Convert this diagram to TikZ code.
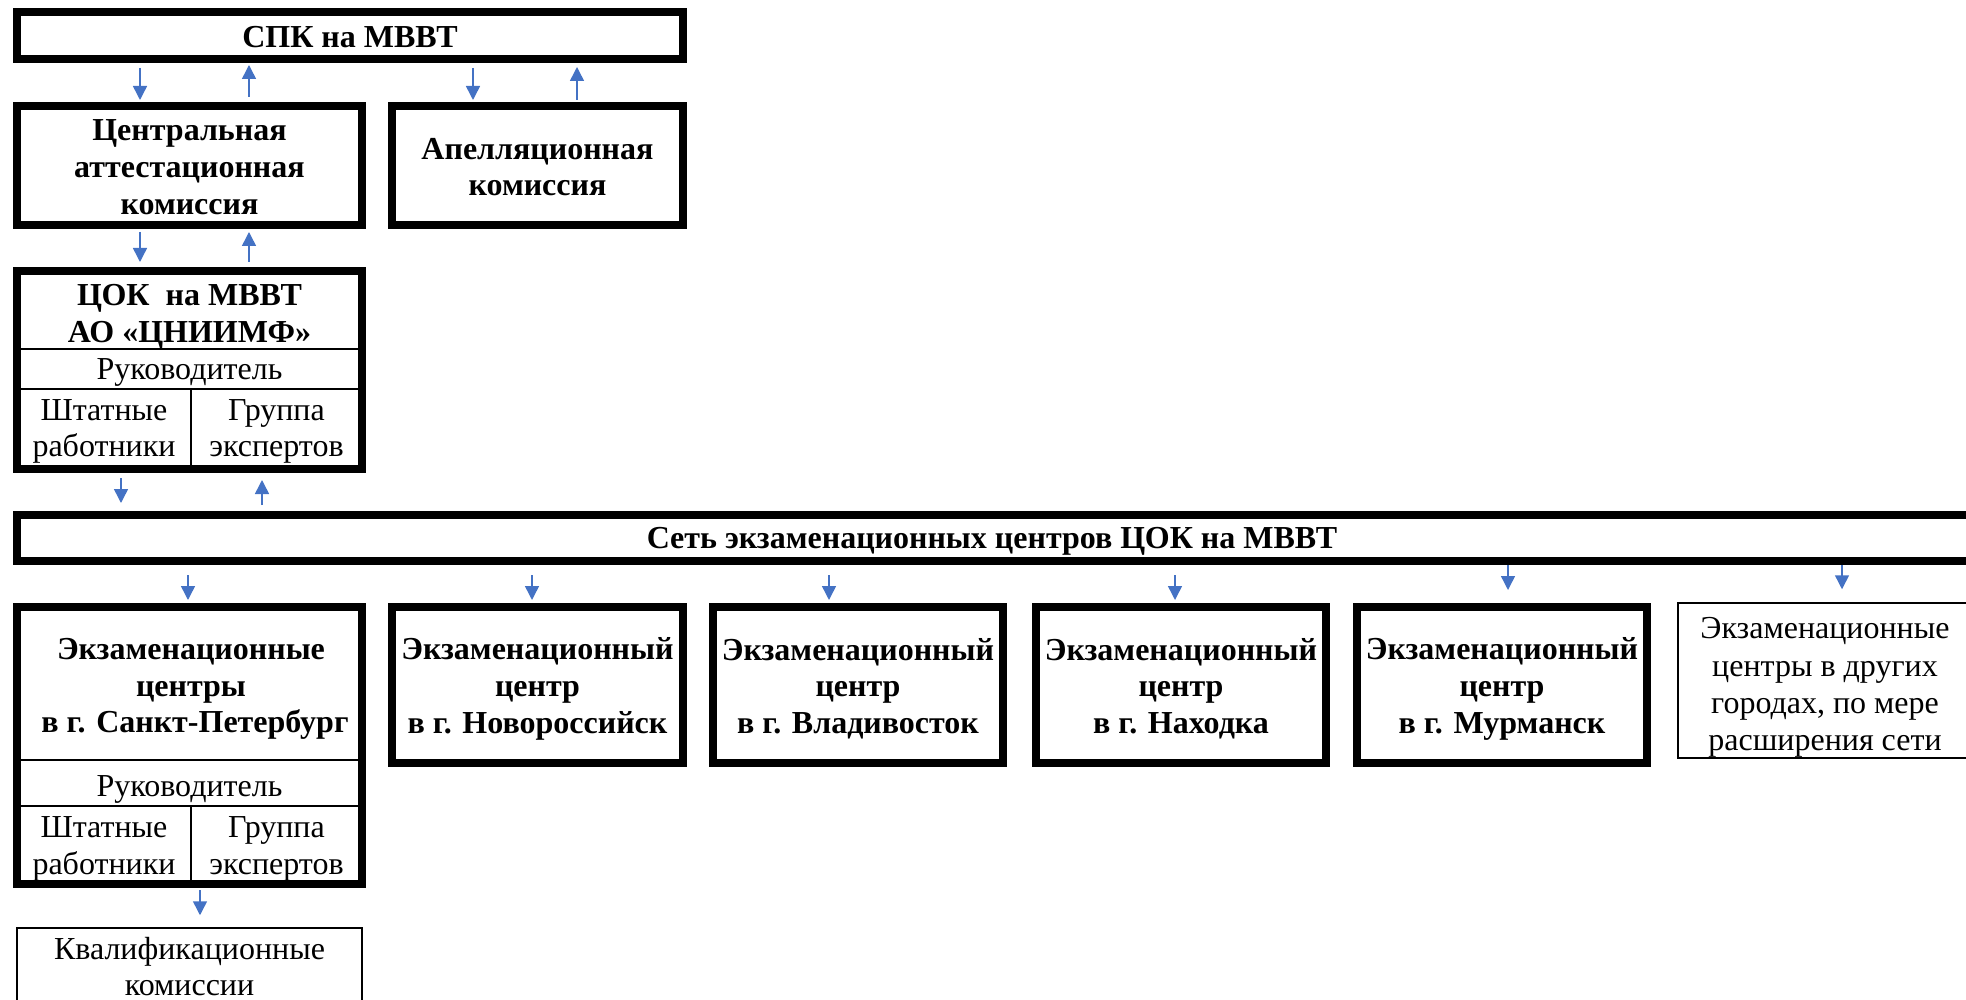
\documentclass[tikz,border=0pt]{standalone}
\usepackage{fontspec}
\setmainfont{Liberation Serif}
\usetikzlibrary{arrows.meta,calc}
\definecolor{arrowblue}{HTML}{4472C4}
\newcommand\pxu[1]{#1*0.5pt}
\begin{document}
\begin{tikzpicture}[x=0.5pt,y=-0.5pt,
  fnt/.style={font=\fontsize{16}{18.4}\selectfont},
  bfnt/.style={font=\bfseries\fontsize{16}{18.4}\selectfont},
  thickbox/.style={draw,line width=4pt,inner sep=0pt},
  thinbox/.style={draw,line width=0.75pt,inner sep=0pt},
  txt/.style={inner sep=0pt,align=center,fnt},
  btxt/.style={inner sep=0pt,align=center,bfnt},
  divline/.style={line width=0.7pt},
  arr/.style={draw=arrowblue,line width=0.75pt,-{Triangle[width=7pt,length=7pt]}}]
\useasboundingbox (0,0) rectangle (1966,1000);

% top level
\node[thickbox,minimum width=\pxu{666},minimum height=\pxu{47}] (spk) at (350,35.5) {};
\node[btxt] (spkt) at ($(spk)+(0,1.5)$) {СПК на МВВТ};
\node[thickbox,minimum width=\pxu{345},minimum height=\pxu{119}] (cak) at (189.5,165.5) {};
\node[btxt] (cakt) at ($(cak)+(0,1.5)$) {Центральная\\аттестационная\\комиссия};
\node[thickbox,minimum width=\pxu{291},minimum height=\pxu{119}] (apk) at (537.5,165.5) {};
\node[btxt] (apkt) at ($(apk)+(0,1.5)$) {Апелляционная\\комиссия};

% ЦОК box
\node[thickbox,minimum width=\pxu{345},minimum height=\pxu{198}] (cok) at (189.5,370) {};
\node[btxt] (cokh) at (189.5,317) {ЦОК\ \ на МВВТ\\АО «ЦНИИМФ»};
\node[txt] (cokr) at (189.5,372.5) {Руководитель};
\node[txt] (cokl) at (104,431.5) {Штатные\\работники};
\node[txt] (cokx) at (276.5,431.5) {Группа\\экспертов};
\draw[divline] (cok.west |- 0,349) -- (cok.east |- 0,349);
\draw[divline] (cok.west |- 0,389) -- (cok.east |- 0,389);
\draw[divline] (191,389) -- (cok.south -| 191,0);

% network
\node[thickbox,minimum width=\pxu{1958},minimum height=\pxu{46}] (set) at (996,538) {};
\node[btxt] (sett) at (992,541.5) {Сеть экзаменационных центров ЦОК на МВВТ};

% exam centres
\node[thickbox,minimum width=\pxu{345},minimum height=\pxu{277}] (ex1) at (189.5,745.5) {};
\node[btxt] (ex1h) at (191,689) {Экзаменационные\\центры\\\ в г. Санкт-Петербург};
\node[txt] (ex1r) at (189.5,789) {Руководитель};
\node[txt] (ex1l) at (104,849) {Штатные\\работники};
\node[txt] (ex1x) at (276.5,849) {Группа\\экспертов};
\draw[divline] (ex1.west |- 0,760) -- (ex1.east |- 0,760);
\draw[divline] (ex1.west |- 0,806) -- (ex1.east |- 0,806);
\draw[divline] (191,806) -- (ex1.south -| 191,0);

\node[thickbox,minimum width=\pxu{291},minimum height=\pxu{156}] (ex2) at (537.5,685) {};
\node[btxt] (ex2t) at ($(ex2)+(0,3.75)$) {Экзаменационный\\центр\\в г. Новороссийск};
\node[thickbox,minimum width=\pxu{290},minimum height=\pxu{156}] (ex3) at (858,685) {};
\node[btxt] (ex3t) at ($(ex3)+(0,3.75)$) {Экзаменационный\\центр\\в г. Владивосток};
\node[thickbox,minimum width=\pxu{290},minimum height=\pxu{156}] (ex4) at (1181,685) {};
\node[btxt] (ex4t) at ($(ex4)+(0,3.75)$) {Экзаменационный\\центр\\в г. Находка};
\node[thickbox,minimum width=\pxu{290},minimum height=\pxu{156}] (ex5) at (1502,685) {};
\node[btxt] (ex5t) at ($(ex5)+(0,3.75)$) {Экзаменационный\\центр\\в г. Мурманск};
\node[thinbox,minimum width=\pxu{294},minimum height=\pxu{155}] (ex6) at (1825,680.5) {};
\node[txt,font=\fontsize{16}{18.6}\selectfont] (ex6t) at ($(ex6)+(0,7)$) {Экзаменационные\\центры в других\\городах, по мере\\расширения сети};

\node[thinbox,minimum width=\pxu{345},minimum height=\pxu{74}] (kval) at (189.5,965) {};
\node[txt] (kvalt) at ($(kval)+(0,1.5)$) {Квалификационные\\комиссии};

% arrows
\draw[arr] ($(spk.south -| 140,0)+(0,5)$) -- ($(cak.north -| 140,0)+(0,-2)$);
\draw[arr] ($(cak.north -| 249,0)+(0,-5)$) -- ($(spk.south -| 249,0)+(0,2)$);
\draw[arr] ($(spk.south -| 473,0)+(0,5)$) -- ($(apk.north -| 473,0)+(0,-2)$);
\draw[arr] ($(apk.north -| 577,0)+(0,-2)$) -- ($(spk.south -| 577,0)+(0,4)$);

\draw[arr] ($(cak.south -| 140,0)+(0,3)$) -- ($(cok.north -| 140,0)+(0,-5)$);
\draw[arr] ($(cok.north -| 249,0)+(0,-5)$) -- ($(cak.south -| 249,0)+(0,3)$);

\draw[arr] ($(cok.south -| 121,0)+(0,5)$) -- ($(set.north -| 121,0)+(0,-8)$);
\draw[arr] ($(set.north -| 262,0)+(0,-6)$) -- ($(cok.south -| 262,0)+(0,7)$);

\draw[arr] ($(set.south -| 188,0)+(0,10)$) -- ($(ex1.north -| 188,0)+(0,-3)$);
\draw[arr] ($(set.south -| 532,0)+(0,10)$) -- ($(ex2.north -| 532,0)+(0,-3)$);
\draw[arr] ($(set.south -| 829,0)+(0,10)$) -- ($(ex3.north -| 829,0)+(0,-3)$);
\draw[arr] ($(set.south -| 1175,0)+(0,10)$) -- ($(ex4.north -| 1175,0)+(0,-3)$);
\draw[arr] ($(set.south -| 1508,0)+(0,0)$) -- ($(ex5.north -| 1508,0)+(0,-13)$);
\draw[arr] ($(set.south -| 1842,0)+(0,0)$) -- ($(ex6.north -| 1842,0)+(0,-13)$);

\draw[arr] ($(ex1.south -| 200,0)+(0,2)$) -- ($(kval.north -| 200,0)+(0,-12)$);
\end{tikzpicture}
\end{document}
